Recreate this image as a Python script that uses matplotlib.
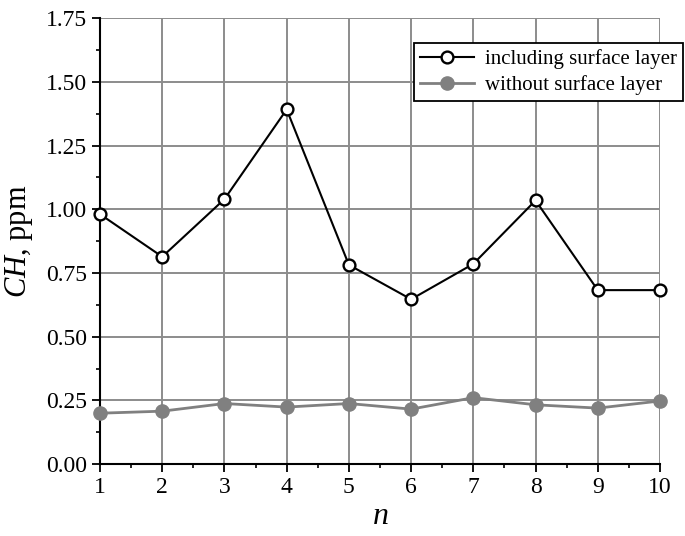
import matplotlib
matplotlib.use("Agg")
import matplotlib.pyplot as plt
from matplotlib.ticker import MultipleLocator, FormatStrFormatter

plt.rcParams['font.family'] = 'Liberation Serif'
plt.rcParams['mathtext.fontset'] = 'custom'
plt.rcParams['mathtext.rm'] = 'Liberation Serif'
plt.rcParams['mathtext.it'] = 'Liberation Serif:italic'

n = [1, 2, 3, 4, 5, 6, 7, 8, 9, 10]
with_surface = [0.981, 0.814, 1.040, 1.392, 0.782, 0.647, 0.786, 1.035, 0.683, 0.683]
without_surface = [0.200, 0.208, 0.238, 0.224, 0.238, 0.216, 0.261, 0.233, 0.220, 0.248]

fig = plt.figure(figsize=(6.85, 5.36), dpi=100)
ax = fig.add_axes([0.146, 0.134, 0.8175, 0.832])

ax.plot(n, with_surface, color='black', lw=1.5, marker='o', ms=8.5,
        mfc='white', mec='black', mew=1.7, label='including surface layer',
        zorder=4, clip_on=False)
ax.plot(n, without_surface, color='#808080', lw=2, marker='o', ms=9.5,
        mfc='#808080', mec='#808080', label='without surface layer',
        zorder=3, clip_on=False)

ax.set_xlim(1, 10)
ax.set_ylim(0, 1.75)
ax.xaxis.set_major_locator(MultipleLocator(1))
ax.xaxis.set_minor_locator(MultipleLocator(0.5))
ax.yaxis.set_major_locator(MultipleLocator(0.25))
ax.yaxis.set_minor_locator(MultipleLocator(0.125))
ax.yaxis.set_major_formatter(FormatStrFormatter('%.2f'))
ax.grid(True, which='major', color='#8c8c8c', lw=1.4)
ax.set_axisbelow(True)

for s in ['top', 'right']:
    ax.spines[s].set_visible(False)
for s in ['left', 'bottom']:
    ax.spines[s].set_linewidth(1.5)
ax.tick_params(which='major', direction='out', length=6, width=1.3, labelsize=17, pad=3)
ax.tick_params(which='minor', direction='out', length=3, width=1.2)

ax.set_xlabel('$n$', fontsize=23, labelpad=3)
ax.set_ylabel('$CH$, ppm', fontsize=22, labelpad=8)

# legend sticks out past the right end of the axes, like the original
leg = ax.legend(loc='upper right', bbox_to_anchor=(0.997, 0.920),
                bbox_transform=fig.transFigure, borderaxespad=0,
                fancybox=False, framealpha=1, edgecolor='black',
                fontsize=15, handlelength=2.6, handletextpad=0.5,
                borderpad=0.3, labelspacing=0.3)
leg.get_frame().set_linewidth(1.3)

fig.savefig('out.png', dpi=100)
